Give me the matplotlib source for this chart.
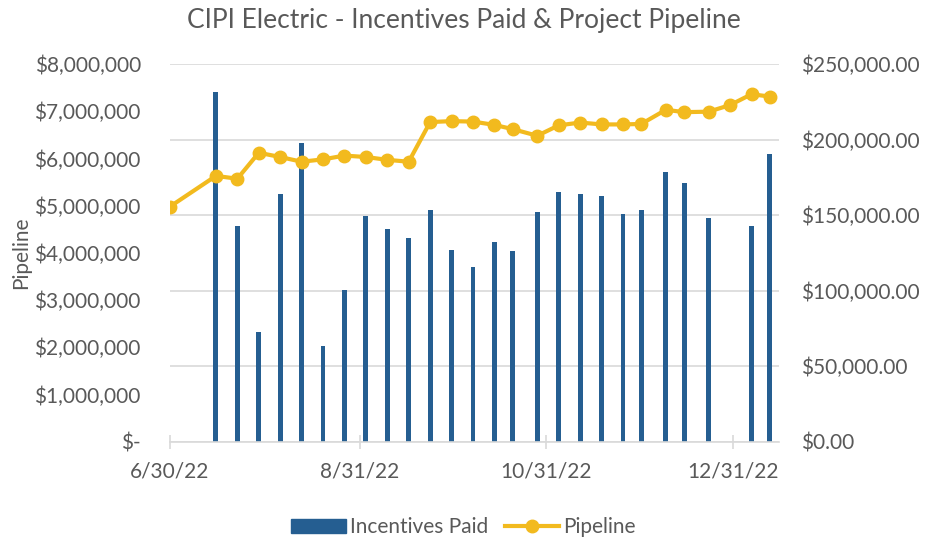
import numpy as np
import pandas as pd
import matplotlib
matplotlib.use( 'Agg' )
import matplotlib.pyplot as plt
import matplotlib.dates as mdates
from matplotlib.ticker import FuncFormatter, MultipleLocator
from matplotlib.lines import Line2D
from matplotlib.patches import Patch

plt.rcParams[ 'font.family' ] = [ 'Lato', 'DejaVu Sans' ]

# weekly pipeline ($, left axis)
pipeline_dates = [ '2022-06-30', '2022-07-15', '2022-07-22', '2022-07-29', '2022-08-05',
	'2022-08-12', '2022-08-19', '2022-08-26', '2022-09-02', '2022-09-09', '2022-09-16',
	'2022-09-23', '2022-09-30', '2022-10-07', '2022-10-14', '2022-10-20', '2022-10-28',
	'2022-11-04', '2022-11-11', '2022-11-18', '2022-11-25', '2022-12-01', '2022-12-09',
	'2022-12-15', '2022-12-23', '2022-12-30', '2023-01-06', '2023-01-12' ]
pipeline = [ 4980000, 5630000, 5570000, 6120000, 6030000,
	5930000, 5980000, 6060000, 6030000, 5970000, 5930000,
	6770000, 6790000, 6780000, 6710000, 6620000, 6480000,
	6700000, 6760000, 6720000, 6720000, 6730000, 7030000,
	6980000, 6990000, 7130000, 7360000, 7310000 ]

# incentives paid ($, right axis)
incentive_dates = [ '2022-07-15', '2022-07-22', '2022-07-29', '2022-08-05',
	'2022-08-12', '2022-08-19', '2022-08-26', '2022-09-02', '2022-09-09', '2022-09-16',
	'2022-09-23', '2022-09-30', '2022-10-07', '2022-10-14', '2022-10-20', '2022-10-28',
	'2022-11-04', '2022-11-11', '2022-11-18', '2022-11-25', '2022-12-01', '2022-12-09',
	'2022-12-15', '2022-12-23', '2023-01-06', '2023-01-12' ]
incentives = [ 231300, 142800, 72800, 164200,
	197500, 63100, 100200, 149200, 140600, 134800,
	153400, 126900, 115600, 132400, 126400, 152200,
	165100, 163700, 162600, 150900, 153600, 178700,
	171400, 148300, 142600, 190200 ]

axis_ticks = [ '2022-06-30', '2022-08-31', '2022-10-31', '2022-12-31' ]

gray  = '#595959'
grid  = '#d9d9d9'
blue  = '#255E91'
gold  = '#F2BA1E'

fig = plt.figure( figsize = ( 9.27, 5.4 ), dpi = 100 )
ax  = fig.add_axes( [ 0.1834, 0.182, 0.657, 0.6995 ] )
ax2 = ax.twinx()

p_dates = pd.to_datetime( pipeline_dates )
i_dates = pd.to_datetime( incentive_dates )

# bars go on the right axis, behind the pipeline line
ax2.bar( i_dates, incentives, width = 1.6, color = blue, zorder = 2 )
ax.plot( p_dates, pipeline, color = gold, linewidth = 3, marker = 'o',
	markersize = 9, zorder = 3 )
ax.set_zorder( ax2.get_zorder() + 1 )
ax.patch.set_visible( False )

ax.set_ylim( 0, 8000000 )
ax2.set_ylim( 0, 250000 )
ax.yaxis.set_major_locator( MultipleLocator( 1000000 ) )
ax2.yaxis.set_major_locator( MultipleLocator( 50000 ) )
ax.yaxis.set_major_formatter( FuncFormatter(
	lambda v, p: '$-' if v == 0 else f'${v:,.0f}' ) )
ax2.yaxis.set_major_formatter( FuncFormatter( lambda v, p: f'${v:,.2f}' ) )

ax.set_xlim( pd.Timestamp( '2022-06-30' ), pd.Timestamp( '2023-01-15' ) )
ax.set_xticks( pd.to_datetime( axis_ticks ) )
ax.xaxis.set_major_formatter( FuncFormatter(
	lambda v, p: ( lambda d: f'{d.month}/{d.day}/{d.strftime( "%y" )}' )( mdates.num2date( v ) ) ) )

# gridlines on the secondary axis (drawn below everything)
ax2.grid( axis = 'y', color = grid, linewidth = 1.2, zorder = 0 )
ax2.set_axisbelow( True )

for a in ( ax, ax2 ):
	for s in a.spines.values():
		s.set_visible( False )
	a.tick_params( axis = 'y', length = 0, labelsize = 15, labelcolor = gray )
ax.spines[ 'bottom' ].set_visible( True )
ax.spines[ 'bottom' ].set_color( grid )
ax.spines[ 'bottom' ].set_linewidth( 1.2 )
ax.tick_params( axis = 'x', direction = 'inout', length = 10, color = grid,
	width = 1.2, labelsize = 15, labelcolor = gray, pad = 9 )
ax.tick_params( axis = 'y', pad = 21 )
ax2.tick_params( axis = 'y', pad = 16 )

ax.set_ylabel( 'Pipeline', fontsize = 15, color = gray )
ax.yaxis.set_label_coords( -0.228, 0.5 )

fig.suptitle( 'CIPI Electric - Incentives Paid & Project Pipeline',
	fontsize = 19, color = gray, y = 0.985 )

handles = [ Patch( color = blue ),
	Line2D( [], [], color = gold, linewidth = 3, marker = 'o', markersize = 9 ) ]
fig.legend( handles, [ 'Incentives Paid', 'Pipeline' ], loc = 'lower center',
	ncol = 2, frameon = False, fontsize = 15, labelcolor = gray,
	bbox_to_anchor = ( 0.5, -0.03 ), handlelength = 2.6, handletextpad = 0.2,
	columnspacing = 0.8 )

fig.savefig( 'out.png', dpi = 100 )
